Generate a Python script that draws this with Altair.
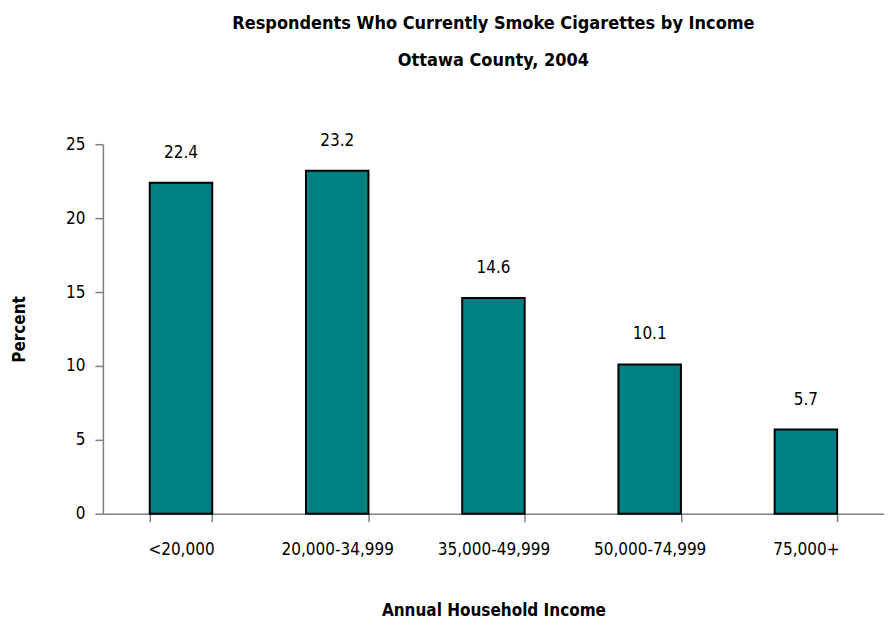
import altair as alt
import pandas as pd

categories = ["<20,000", "20,000-34,999", "35,000-49,999", "50,000-74,999", "75,000+"]
values = [22.4, 23.2, 14.6, 10.1, 5.7]
labels = ["22.4", "23.2", "14.6", "10.1", "5.7"]

df = pd.DataFrame({"income": categories, "pct": values, "label": labels})

FONT = "DejaVu Sans Condensed, Liberation Sans, sans-serif"

x = alt.X("income:N", sort=categories,
          scale=alt.Scale(paddingInner=0.6, paddingOuter=0.3),
          axis=alt.Axis(title="Annual Household Income", labelAngle=0, tickBand="extent",
                        domainColor="#808080", domainWidth=1.5, tickColor="#808080",
                        tickWidth=1.5, tickSize=8, labelPadding=20,
                        labelFont=FONT, labelFontSize=17, labelColor="#000000",
                        titleFont=FONT, titleFontSize=17, titleFontWeight="bold",
                        titleColor="#000000", titlePadding=45))
y = alt.Y("pct:Q", scale=alt.Scale(domain=[0, 25], nice=False),
          axis=alt.Axis(title="Percent", values=[0, 5, 10, 15, 20, 25], grid=False,
                        domainColor="#808080", domainWidth=1.5, tickColor="#808080",
                        tickWidth=1.5, tickSize=8, labelPadding=10,
                        labelFont=FONT, labelFontSize=17, labelColor="#000000",
                        titleFont=FONT, titleFontSize=17, titleFontWeight="bold",
                        titleColor="#000000", titlePadding=37))

bars = alt.Chart(df).mark_bar(color="#008080", stroke="#000000", strokeWidth=2).encode(x=x, y=y)
text = alt.Chart(df).mark_text(dy=-30, font=FONT, fontSize=17, color="#000000",
                               baseline="middle").encode(
    x=alt.X("income:N", sort=categories), y=alt.Y("pct:Q"), text="label:N")

chart = (bars + text).properties(
    width=782, height=370,
    padding={"left": 2, "top": 6, "right": 0, "bottom": 0},
    title=alt.Title(["Respondents Who Currently Smoke Cigarettes by Income", "Ottawa County, 2004"],
                    font=FONT, fontSize=18, fontWeight="bold", color="#000000",
                    lineHeight=37, offset=62, anchor="middle"),
).configure_view(stroke=None)

chart.save("out.html", embed_options={"renderer": "svg", "actions": False})
